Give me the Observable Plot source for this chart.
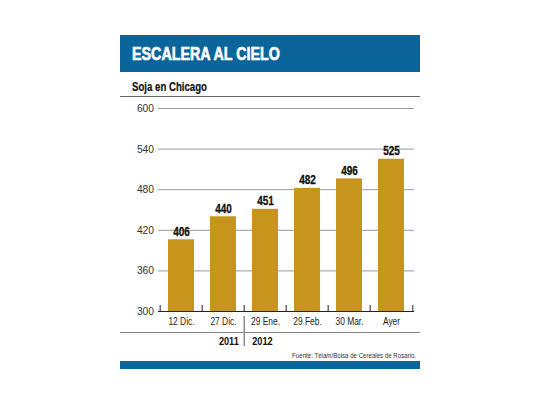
<!DOCTYPE html>
<html><head><meta charset="utf-8">
<script src="https://cdn.jsdelivr.net/npm/d3@7"></script>
<script src="https://cdn.jsdelivr.net/npm/@observablehq/plot@0.6"></script>
<style>
body{margin:0;background:#fff;}
#wrap{position:relative;width:540px;height:405px;overflow:hidden;font-family:"Liberation Sans",Arial,sans-serif;}
#wrap svg{position:absolute;left:0;top:0;}
.abs{position:absolute;white-space:nowrap;}
#titlebar{left:120px;top:35px;width:300px;height:37px;background:#0b659b;}
#title{left:131.5px;top:36px;color:#fff;font-weight:bold;font-size:18px;line-height:37px;transform-origin:left center;-webkit-text-stroke:0.6px #fff;}
#sub{left:131.5px;top:81px;font-weight:bold;font-size:12px;line-height:13px;color:#111;transform-origin:left center;-webkit-text-stroke:0.2px #111;}
#subline{left:120px;top:96px;width:300px;height:1px;background:#666;}
#sepline{left:120px;top:332px;width:300px;height:1px;background:#888;}
#source{right:124px;top:351px;font-size:8px;line-height:9px;color:#333;transform-origin:right center;}
#bottombar{left:120px;top:361px;width:300px;height:8px;background:#0b659b;}
</style>
</head><body>
<div id="wrap">
  <div class="abs" id="titlebar"></div>
  <div class="abs" id="title" data-w="148">ESCALERA AL CIELO</div>
  <div class="abs" id="sub" data-w="75">Soja en Chicago</div>
  <div class="abs" id="subline"></div>
  <div class="abs" id="sepline"></div>
  <div class="abs" id="source" data-w="124">Fuente: Télam/Bolsa de Cereales de Rosario.</div>
  <div class="abs" id="bottombar"></div>
</div>
<script>
const labels = ["12 Dic.", "27 Dic.", "29 Ene.", "29 Feb.", "30 Mar.", "Ayer"];
const values = [406, 440, 451, 482, 496, 525];
const yTicks = [300, 360, 420, 480, 540, 600];
const years = ["2011", "2012"];
const yearAt = ["27 Dic.", "29 Ene."];

const data = labels.map((l, i) => ({label: l, value: values[i]}));
const W = 540, H = 405, mT = 108, mB = 94, mL = 158, mR = 126;
const step = (W - mL - mR) / labels.length;
const frameH = H - mT - mB;
const font = "Liberation Sans, Arial, sans-serif";

const chart = Plot.plot({
  width: W, height: H,
  marginTop: mT, marginBottom: mB, marginLeft: mL, marginRight: mR,
  style: {fontFamily: font, background: "transparent", overflow: "visible"},
  x: {domain: labels, paddingInner: 0.37, paddingOuter: 0.185, axis: null},
  y: {domain: [yTicks[0], yTicks[yTicks.length - 1]], axis: null},
  marks: [
    Plot.gridY(yTicks.slice(1), {stroke: "#9a9a9a", strokeOpacity: 1, strokeWidth: 1}),
    Plot.barY(data, {x: "label", y1: yTicks[0], y2: "value", fill: "#c8951c"}),
    Plot.ruleY([yTicks[0]], {stroke: "#222", strokeWidth: 1.2}),
    Plot.ruleX(labels, {x: d => d, dx: -step / 2, insetTop: frameH - 6, stroke: "#222"}),
    Plot.ruleX([labels[labels.length - 1]], {x: d => d, dx: step / 2, insetTop: frameH - 6, stroke: "#222"}),
    Plot.text(data, {x: "label", y: "value", text: d => String(d.value), dy: -8, fontWeight: "bold", fontSize: 12.5, fill: "#111", stroke: "#111", strokeWidth: 0.3, ariaLabel: "value-label"}),
    Plot.axisY({ticks: yTicks, tickSize: 0, tickPadding: 4.5, fontSize: 10.8, fill: "#333", label: null}),
    Plot.axisX({tickSize: 0, tickPadding: 6, fontSize: 10.5, fill: "#222", label: null}),
    Plot.ruleX([yearAt[1]], {x: d => d, dx: -step / 2, insetTop: frameH + 5, insetBottom: -35, stroke: "#555"}),
    Plot.text([years[0]], {x: () => yearAt[0], frameAnchor: "bottom", textAnchor: "end", dx: step / 2 - 6, dy: 33, lineAnchor: "bottom", fontWeight: "bold", fontSize: 11.5, fill: "#111"}),
    Plot.text([years[1]], {x: () => yearAt[1], frameAnchor: "bottom", textAnchor: "start", dx: -step / 2 + 8, dy: 33, lineAnchor: "bottom", fontWeight: "bold", fontSize: 11.5, fill: "#111"})
  ]
});

// condense chart text horizontally around each text's anchor point
const scaleFor = g => {
  const a = g && g.getAttribute("aria-label") || "";
  if (a.startsWith("y-axis")) return 0.95;
  if (a === "value-label") return 0.84;
  return 0.8;
};
chart.querySelectorAll("text").forEach(t => {
  const s = scaleFor(t.closest("g[aria-label]"));
  const tr = t.getAttribute("transform");
  if (tr) {
    t.setAttribute("transform", tr + ` scale(${s},1)`);
  } else {
    const x = +(t.getAttribute("x") || 0), y = +(t.getAttribute("y") || 0);
    t.removeAttribute("x"); t.removeAttribute("y");
    t.setAttribute("transform", `translate(${x},${y}) scale(${s},1)`);
  }
});
document.getElementById("wrap").prepend(chart);

// fit HTML headings to the reference widths (condensed look)
document.querySelectorAll("[data-w]").forEach(el => {
  const w = el.getBoundingClientRect().width;
  el.style.transform = `scaleX(${(+el.dataset.w / w).toFixed(3)})`;
});
</script>
</body></html>
